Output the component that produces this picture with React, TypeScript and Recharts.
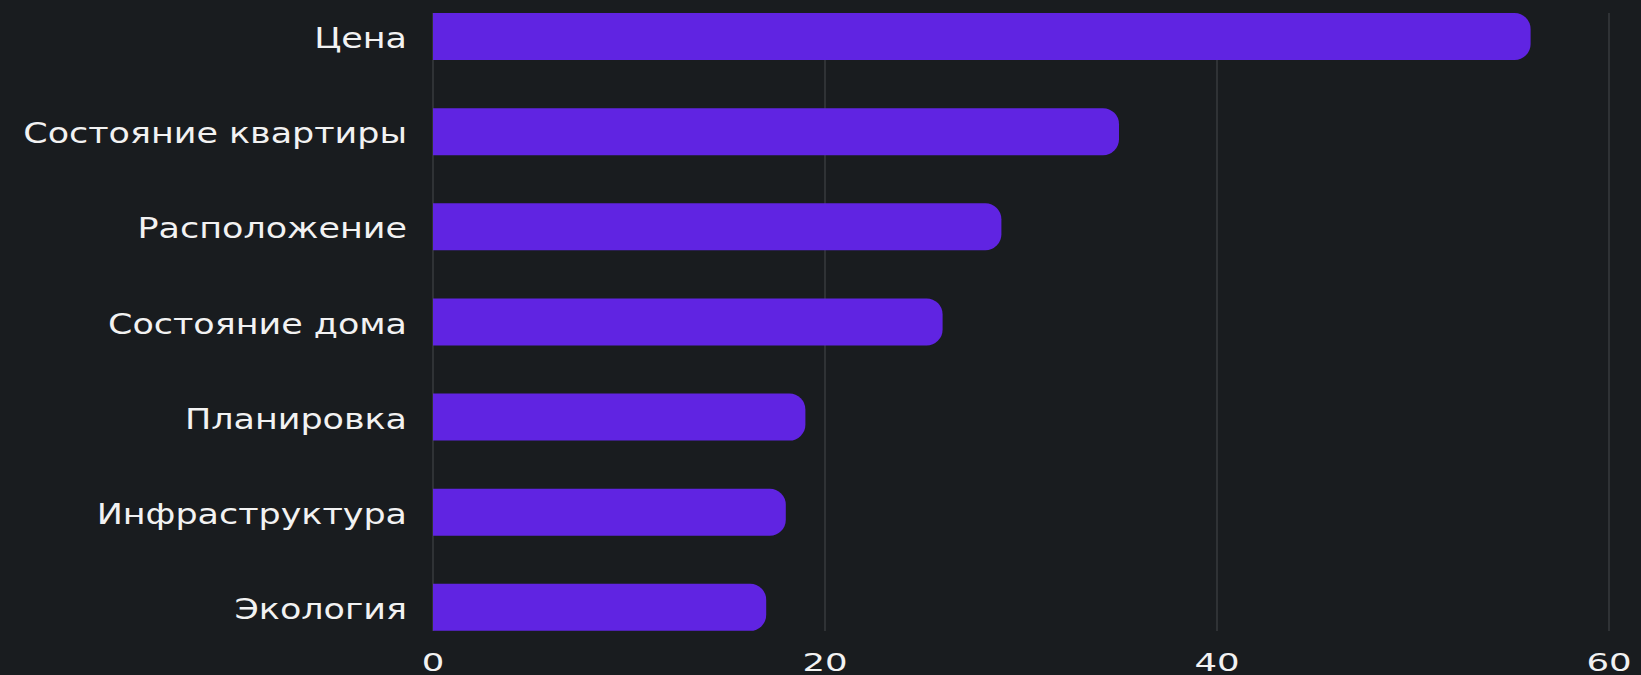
import React from "react";
import { BarChart, Bar, XAxis, YAxis, CartesianGrid } from "recharts";

const categories = [
  "Цена",
  "Состояние квартиры",
  "Расположение",
  "Состояние дома",
  "Планировка",
  "Инфраструктура",
  "Экология",
];
const values = [56, 35, 29, 26, 19, 18, 17];
const xTicks = [0, 20, 40, 60];

const data = categories.map((name, i) => ({ name, value: values[i] }));

const FONT = "'DejaVu Sans', sans-serif";
const TEXT = "#f2f2f2";

const YTick = (props: any) => {
  const { x, y, payload } = props;
  return (
    <g transform={`translate(${x},${y + 2}) scale(1.27,1)`}>
      <text x={0} y={0} textAnchor="end" dominantBaseline="central" fill={TEXT} fontFamily={FONT} fontSize={27.5}>
        {payload.value}
      </text>
    </g>
  );
};

const XTick = (props: any) => {
  const { x, y, payload } = props;
  return (
    <g transform={`translate(${x},${y + 23}) scale(1.42,1)`}>
      <text x={0} y={0} textAnchor="middle" dominantBaseline="central" fill={TEXT} fontFamily={FONT} fontSize={25}>
        {payload.value}
      </text>
    </g>
  );
};

export default function App() {
  return (
    <div style={{ position: "absolute", left: 0, top: 0, width: 1641, height: 675, background: "#191c1f" }}>
      <BarChart
        width={1641}
        height={675}
        data={data}
        layout="vertical"
        margin={{ top: 13, right: 32, bottom: 0, left: 0 }}
      >
        <CartesianGrid horizontal={false} vertical={true} stroke="#373a3e" strokeWidth={1.5} />
        <XAxis
          type="number"
          domain={[0, 60]}
          ticks={xTicks}
          axisLine={false}
          tickLine={false}
          height={44}
          tick={<XTick />}
          interval={0}
        />
        <YAxis
          type="category"
          dataKey="name"
          width={433}
          axisLine={false}
          tickLine={false}
          tickMargin={20}
          padding={{ top: -24, bottom: -24 }}
          tick={<YTick />}
          interval={0}
        />
        <Bar dataKey="value" fill="#6024e2" barSize={47} radius={[0, 16, 16, 0]} isAnimationActive={false} />
      </BarChart>
    </div>
  );
}
